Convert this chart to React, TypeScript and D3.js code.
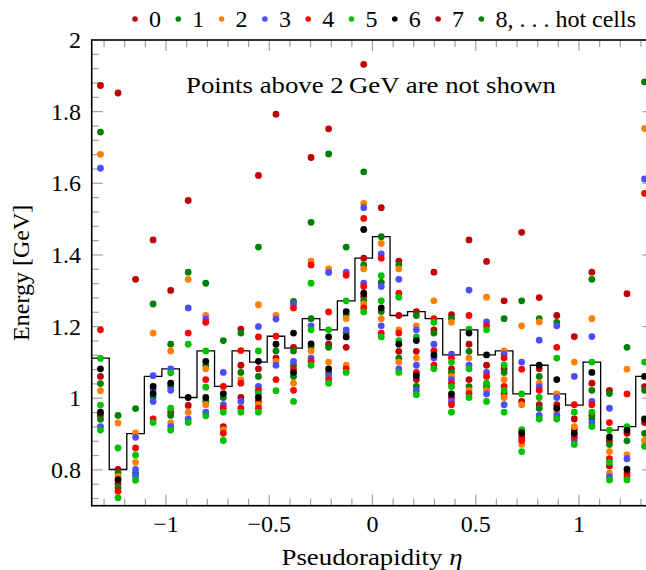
import React from "react";
import * as d3 from "d3";

// ---- data ----
// eta binning: 32 towers between -1.36 and 1.36
const etaMin = -1.36;
const etaMax = 1.36;
const nBins = 32;

// mean energy per eta bin (black step histogram)
const meanEnergy = [
  1.112, 0.801, 0.901, 1.061, 1.082, 1.002, 1.132, 1.033, 1.132, 1.101, 1.173,
  1.140, 1.222, 1.191, 1.272, 1.391, 1.451, 1.231, 1.242, 1.222, 1.121, 1.191,
  1.121, 1.132, 1.012, 1.092, 1.012, 0.981, 1.101, 0.911, 0.921, 1.061,
];

// hot-cell energies: [bin index, energy]  (colour groups of the cycle)
const darkRedPts: [number, number][] = [
  [0, 1.873], [0, 1.061], [0, 0.952], [1, 1.852], [1, 0.801], [1, 0.761], [2, 1.332],
  [3, 1.442], [4, 1.301], [4, 0.961], [5, 1.552], [5, 0.98], [7, 0.921], [8, 1.193],
  [8, 1.092], [8, 1.002], [9, 1.622], [9, 1.082], [9, 0.991], [10, 1.793], [10, 1.112],
  [11, 1.142], [12, 1.672], [13, 1.752], [13, 1.151], [14, 1.142], [15, 1.932], [15, 1.391],
  [15, 1.284], [16, 1.532], [17, 1.383], [17, 1.231], [17, 1.131], [18, 1.242], [18, 1.131],
  [18, 1.052], [19, 1.352], [19, 1.191], [20, 1.233], [20, 1.082], [20, 1.002], [21, 1.442],
  [21, 1.151], [21, 1.052], [22, 1.382], [22, 1.092], [23, 1.272], [23, 1.082], [23, 1.012],
  [24, 1.463], [24, 0.991], [24, 0.892], [25, 1.281], [25, 1.082], [25, 0.982], [26, 1.231],
  [26, 0.982], [27, 1.172], [27, 0.942], [27, 0.912], [28, 1.352], [28, 1.042], [28, 0.952],
  [29, 1.022], [29, 0.881], [29, 0.811], [30, 1.292], [30, 0.902], [30, 0.791], [31, 1.032],
  [31, 0.932],
];
const darkGreenPts: [number, number][] = [
  [0, 1.743], [0, 1.041], [0, 0.941], [1, 0.952], [1, 0.791], [1, 0.751], [2, 0.971],
  [2, 0.791], [3, 1.263], [3, 1.004], [4, 1.151], [4, 1.033], [4, 0.952], [5, 1.352],
  [6, 1.321], [6, 1.092], [6, 0.991], [7, 1.161], [7, 1.002], [8, 1.182], [8, 1.072],
  [9, 1.422], [9, 1.061], [10, 1.132], [11, 1.27], [11, 1.132], [11, 1.092], [11, 1.061],
  [12, 1.491], [12, 1.222], [12, 1.143], [13, 1.682], [13, 1.142], [13, 1.072], [14, 1.422],
  [14, 1.233], [14, 1.182], [15, 1.632], [15, 1.372], [15, 1.273], [16, 1.451], [16, 1.323],
  [16, 1.242], [17, 1.372], [17, 1.112], [18, 1.231], [18, 1.033], [19, 1.182], [20, 1.222],
  [20, 1.072], [21, 1.131], [21, 1.032], [22, 1.032], [23, 1.222], [23, 1.072], [24, 1.272],
  [25, 1.222], [25, 1.061], [25, 0.972], [26, 1.212], [28, 1.332], [28, 1.022], [28, 0.942],
  [29, 1.013], [29, 0.871], [30, 1.142], [30, 0.881], [31, 1.883], [31, 1.022], [31, 0.902],
];
const orangePts: [number, number][] = [
  [0, 1.681], [0, 1.021], [1, 0.931], [1, 0.782], [2, 0.903], [2, 0.821], [3, 1.182],
  [4, 1.132], [4, 0.931], [5, 1.332], [5, 0.961], [6, 1.231], [6, 1.082], [6, 0.982],
  [7, 0.912], [8, 1.052], [9, 1.261], [9, 0.982], [10, 1.231], [10, 1.103], [11, 1.042],
  [12, 1.383], [12, 1.132], [13, 1.361], [13, 1.101], [14, 1.222], [14, 1.092], [15, 1.544],
  [15, 1.361], [15, 1.263], [16, 1.432], [16, 1.222], [17, 1.361], [17, 1.191], [17, 1.101],
  [18, 1.202], [18, 1.112], [19, 1.272], [20, 1.212], [20, 1.061], [21, 1.112], [21, 1.022],
  [22, 1.282], [22, 1.022], [23, 1.132], [23, 1.052], [23, 1.002], [24, 1.202], [24, 0.982],
  [24, 0.871], [25, 1.213], [25, 1.042], [26, 1.012], [26, 0.961], [27, 1.101], [27, 0.921],
  [28, 1.222], [29, 0.851], [29, 0.791], [30, 1.081], [30, 0.842], [31, 1.753], [31, 0.882],
];
const bluePts: [number, number][] = [
  [0, 1.642], [0, 0.921], [2, 0.891], [2, 0.801], [2, 0.782], [3, 1.063], [3, 1.024],
  [3, 0.991], [4, 1.082], [4, 1.022], [4, 0.921], [5, 1.252], [5, 0.942], [6, 1.221],
  [6, 0.961], [7, 1.072], [7, 0.982], [8, 0.991], [9, 1.2], [9, 1.033], [10, 1.221],
  [10, 1.092], [11, 1.263], [11, 1.103], [12, 1.202], [12, 1.112], [13, 1.351], [13, 1.063],
  [14, 1.352], [14, 1.191], [15, 1.532], [15, 1.321], [16, 1.403], [16, 1.312], [16, 1.202],
  [17, 1.332], [17, 1.082], [18, 1.191], [18, 1.092], [18, 1.021], [19, 1.151], [19, 1.112],
  [20, 1.123], [20, 1.052], [20, 0.991], [21, 1.302], [21, 1.092], [22, 1.213], [22, 1.072],
  [22, 1.012], [23, 1.123], [23, 0.982], [24, 1.101], [25, 1.162], [25, 1.032], [25, 0.952],
  [26, 1.202], [26, 1.002], [26, 0.952], [27, 1.061], [27, 0.882], [28, 1.172], [28, 0.991],
  [28, 0.931], [29, 0.972], [29, 0.781], [30, 0.831], [31, 1.612],
];
const redPts: [number, number][] = [
  [0, 1.191], [1, 0.74], [2, 0.861], [3, 0.942], [5, 1.182], [6, 1.212], [6, 1.052],
  [7, 1.033], [7, 0.972], [7, 0.902], [8, 1.133], [8, 1.042], [8, 0.972], [9, 1.171],
  [9, 1.022], [9, 0.972], [10, 1.173], [10, 1.052], [11, 1.252], [11, 1.082], [11, 1.022],
  [12, 1.372], [12, 1.103], [13, 1.241], [13, 1.052], [14, 1.343], [14, 1.082], [15, 1.502],
  [15, 1.312], [15, 1.252], [16, 1.391], [16, 1.182], [17, 1.293], [17, 1.182], [18, 1.072],
  [19, 1.222], [19, 1.133], [19, 1.092], [20, 1.112], [20, 1.042], [20, 0.982], [21, 1.231],
  [21, 1.013], [22, 1.202], [22, 1.061], [23, 1.112], [23, 1.033], [24, 1.081], [24, 0.882],
  [25, 1.022], [26, 1.142], [27, 0.982], [27, 0.892], [28, 0.982], [29, 0.932], [29, 0.831],
  [30, 1.012], [30, 0.781], [31, 1.572],
];
const lightGreenPts: [number, number][] = [
  [0, 1.111], [0, 0.981], [0, 0.911], [1, 0.861], [1, 0.722], [2, 0.841], [2, 0.771],
  [3, 0.932], [4, 1.071], [4, 0.972], [4, 0.911], [5, 1.151], [5, 0.932], [6, 1.132],
  [6, 1.031], [6, 0.951], [7, 0.961], [7, 0.882], [8, 0.961], [9, 1.132], [9, 1.013],
  [9, 0.961], [10, 1.021], [11, 0.991], [12, 1.321], [12, 1.191], [12, 1.092], [13, 1.191],
  [13, 1.042], [14, 1.272], [14, 1.072], [15, 1.241], [16, 1.342], [16, 1.272], [16, 1.171],
  [17, 1.282], [17, 1.161], [17, 1.072], [18, 1.171], [18, 1.01], [19, 1.212], [19, 1.082],
  [20, 1.101], [20, 1.032], [20, 0.961], [21, 1.193], [21, 1.082], [21, 1.002], [22, 1.191],
  [22, 1.042], [22, 0.991], [23, 1.092], [23, 1.022], [23, 0.961], [24, 1.012], [24, 0.912],
  [24, 0.851], [25, 1.002], [25, 0.942], [26, 1.112], [26, 0.942], [27, 0.961], [27, 0.871],
  [28, 1.101], [28, 0.961], [28, 0.921], [29, 0.911], [29, 0.821], [29, 0.772], [30, 0.921],
  [30, 0.772], [31, 1.101], [31, 0.866],
];
const blackPts: [number, number][] = [
  [0, 1.082], [0, 0.961], [1, 0.773], [3, 1.033], [3, 1.013], [4, 1.042], [5, 1.002],
  [6, 1.103], [6, 1.002], [7, 1.013], [9, 1.103], [9, 1.002], [10, 1.151], [11, 1.182],
  [11, 1.072], [12, 1.152], [13, 1.171], [13, 1.082], [14, 1.242], [14, 1.171], [15, 1.471],
  [15, 1.293], [16, 1.252], [17, 1.151], [18, 1.161], [18, 1.063], [19, 1.121], [20, 1.012],
  [21, 1.182], [22, 1.121], [24, 0.903], [25, 1.092], [26, 1.052], [26, 0.972], [27, 0.902],
  [28, 1.072], [29, 0.892], [30, 0.911], [30, 0.802], [31, 1.061], [31, 0.942],
];

const legendLabels = ["0", "1", "2", "3", "4", "5", "6", "7", "8, . . .  hot cells"];
const xTicks = [-1, -0.5, 0, 0.5, 1];
const xTickLabels = ["\u22121", "\u22120.5", "0", "0.5", "1"];
const yTicks = [0.8, 1, 1.2, 1.4, 1.6, 1.8, 2];
const yTickLabels = ["0.8", "1", "1.2", "1.4", "1.6", "1.8", "2"];

// ---- styles ----
const C_DRED = "#c00000";
const C_DGREEN = "#008000";
const C_ORANGE = "#ff8000";
const C_BLUE = "#4d4dff";
const C_RED = "#ff0000";
const C_LGREEN = "#00c000";
const C_BLACK = "#000000";
const legendColors = [C_DRED, C_DGREEN, C_ORANGE, C_BLUE, C_RED, C_LGREEN, C_BLACK, C_DRED, C_DGREEN];

const groups: { color: string; pts: [number, number][] }[] = [
  { color: C_DRED, pts: darkRedPts },
  { color: C_DGREEN, pts: darkGreenPts },
  { color: C_ORANGE, pts: orangePts },
  { color: C_BLUE, pts: bluePts },
  { color: C_RED, pts: redPts },
  { color: C_LGREEN, pts: lightGreenPts },
  { color: C_BLACK, pts: blackPts },
];

const W = 646;
const H = 570;
const L = 91.7;
const R = 653.3;
const T = 40;
const B = 505.7;
const FONT =
  '"Liberation Serif", "Tinos", "Times New Roman", "DejaVu Serif", "Noto Serif", "FreeSerif", Times, serif';
const txt: React.CSSProperties = { fontFamily: FONT };

export default function App() {
  const x = d3.scaleLinear().domain([etaMin, etaMax]).range([L, R]);
  const y = d3.scaleLinear().domain([0.7, 2.0]).range([B, T]);
  const bw = (etaMax - etaMin) / nBins;
  const center = (k: number) => etaMin + bw * (k + 0.5);

  const stepData = meanEnergy.map((v, k) => [etaMin + bw * k, v] as [number, number]);
  stepData.push([etaMax, meanEnergy[meanEnergy.length - 1]]);
  const stepPath = d3
    .line<[number, number]>()
    .x((d) => x(d[0]))
    .y((d) => y(d[1]))
    .curve(d3.curveStepAfter)(stepData) as string;

  const xMinor = d3.range(-13, 14).map((i) => i / 10);
  const yMinor = d3.range(18, 50).map((i) => i * 0.04).filter((v) => v > 0.7 && v < 2.0001);

  const tickColor = "#a0a0a0";
  const majorLen = 11;
  const minorLen = 7;

  const legendX0 = 135;
  const legendStep = 43.3;

  return (
    <svg
      width={W}
      height={H}
      style={{ position: "absolute", left: 0, top: 0, background: "#fff" }}
    >
      <defs>
        <clipPath id="plotclip">
          <rect x={L} y={T} width={R - L} height={B - T} />
        </clipPath>
      </defs>

      {/* ticks */}
      <g stroke={tickColor} strokeWidth={1.2}>
        {xMinor.map((v) => {
          const major = xTicks.some((t) => Math.abs(t - v) < 1e-6);
          const len = major ? majorLen : minorLen;
          return (
            <g key={"xt" + v}>
              <line x1={x(v)} x2={x(v)} y1={B} y2={B - len} />
              <line x1={x(v)} x2={x(v)} y1={T} y2={T + len} />
            </g>
          );
        })}
        {yMinor.map((v) => {
          const major = yTicks.some((t) => Math.abs(t - v) < 1e-6);
          const len = major ? majorLen : minorLen;
          return (
            <g key={"yt" + v}>
              <line x1={L} x2={L + len} y1={y(v)} y2={y(v)} />
              <line x1={R} x2={R - len} y1={y(v)} y2={y(v)} />
            </g>
          );
        })}
      </g>

      {/* histogram */}
      <path d={stepPath} fill="none" stroke="#000" strokeWidth={1.3} clipPath="url(#plotclip)" />

      {/* points */}
      <g clipPath="url(#plotclip)">
        {groups.map((g, gi) =>
          g.pts.map((p, i) => (
            <circle key={gi + "-" + i} cx={x(center(p[0]))} cy={y(p[1])} r={3.4} fill={g.color} />
          ))
        )}
      </g>

      {/* axis frame */}
      <rect x={L} y={T} width={R - L} height={B - T} fill="none" stroke="#000" strokeWidth={1.6} />

      {/* tick labels */}
      <g fontSize={24} fill="#000">
        {xTicks.map((t, i) => (
          <text key={"xl" + t} x={x(t)} y={532} textAnchor="middle" style={txt}>
            {xTickLabels[i]}
          </text>
        ))}
        {yTicks.map((t, i) => (
          <text key={"yl" + t} x={81} y={y(t) + 8} textAnchor="end" style={txt}>
            {yTickLabels[i]}
          </text>
        ))}
      </g>

      {/* axis titles */}
      <text
        x={372}
        y={565}
        textAnchor="middle"
        fontSize={24}
        style={txt}
        textLength={181}
        lengthAdjust="spacingAndGlyphs"
      >
        Pseudorapidity <tspan fontStyle="italic">η</tspan>
      </text>
      <text
        transform={`translate(29, ${(T + B) / 2}) rotate(-90)`}
        textAnchor="middle"
        fontSize={24}
        style={txt}
      >
        Energy [GeV]
      </text>

      {/* annotation */}
      <text
        x={371}
        y={93}
        textAnchor="middle"
        fontSize={24}
        style={txt}
        textLength={370}
        lengthAdjust="spacingAndGlyphs"
      >
        Points above 2{"\u2009"}GeV are not shown
      </text>

      {/* legend */}
      <g fontSize={24}>
        {legendLabels.map((lab, i) => (
          <g key={"lg" + i}>
            <circle cx={legendX0 + legendStep * i} cy={19} r={2.8} fill={legendColors[i]} />
            <text x={legendX0 + legendStep * i + 14} y={27} style={txt}>
              {lab}
            </text>
          </g>
        ))}
      </g>
    </svg>
  );
}
